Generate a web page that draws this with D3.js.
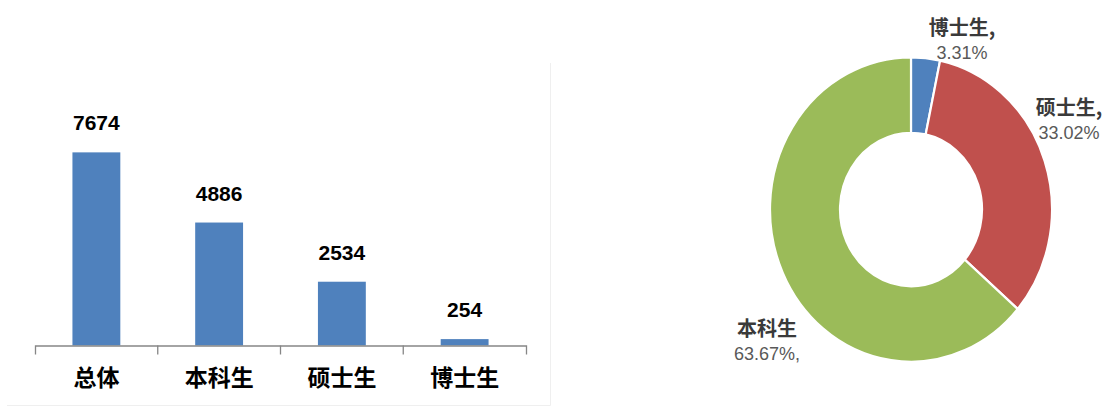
<!DOCTYPE html>
<html>
<head>
<meta charset="utf-8">
<script src="https://cdn.jsdelivr.net/npm/d3@7/dist/d3.min.js"></script>
<style>
  html, body { margin: 0; padding: 0; background: #fff; }
  svg { display: block; }
</style>
</head>
<body>
<div id="chart"></div>
<script>
// data
const categories = ['总体', '本科生', '硕士生', '博士生'];
const counts = [7674, 4886, 2534, 254];

// donut runs clockwise from 12 o'clock
const pieNames = ['博士生', '硕士生', '本科生'];
const pieCounts = [254, 2534, 4886];
const pieColors = ['#4f81bd', '#c0504d', '#9bbb59'];
// where the comma sits in each label (Excel style)
const nameSuffix = [',', ',', ''];
const pctSuffix = ['', '', ','];

const width = 1112;
const height = 409;
const cjk = '"Noto Sans CJK SC", "Noto Sans", sans-serif';
const num = '"Liberation Sans", Arial, sans-serif';

const svg = d3.select('#chart').append('svg')
    .attr('width', width)
    .attr('height', height);

// faint frame of the bar chart picture
svg.append('path')
    .attr('d', 'M7,405.5H550.5V63')
    .attr('fill', 'none')
    .attr('stroke', '#efefef')
    .attr('stroke-width', 1);

/* ---------- bar chart ---------- */
const axisY = 345.5;
const x = d3.scaleBand()
    .domain(categories)
    .range([35, 526])
    .paddingInner(0.61)
    .paddingOuter(0.305);
const y = d3.scaleLinear()
    .domain([0, 9000])
    .range([axisY, 119]);

const bars = svg.append('g');
bars.selectAll('rect')
    .data(categories)
    .join('rect')
    .attr('x', d => x(d))
    .attr('y', (d, i) => y(counts[i]))
    .attr('width', x.bandwidth())
    .attr('height', (d, i) => axisY - y(counts[i]))
    .attr('fill', '#4f81bd');

bars.selectAll('text')
    .data(categories)
    .join('text')
    .attr('x', d => x(d) + x.bandwidth() / 2)
    .attr('y', (d, i) => y(counts[i]) - 22)
    .attr('text-anchor', 'middle')
    .style('font-family', num)
    .style('font-weight', 'bold')
    .style('font-size', '21px')
    .attr('fill', '#000')
    .text((d, i) => counts[i]);

const xAxis = svg.append('g')
    .attr('transform', `translate(0,${axisY})`)
    .call(d3.axisBottom(x).tickSize(0).tickSizeOuter(9).tickPadding(24));
xAxis.select('.domain')
    .attr('stroke', '#868686')
    .attr('stroke-width', 1.3);
xAxis.selectAll('.tick text')
    .style('font-family', cjk)
    .style('font-weight', 'bold')
    .style('font-size', '23px')
    .attr('fill', '#000');

// category boundary ticks
const gap = x.step() * x.paddingInner() / 2;
xAxis.selectAll('line.sep')
    .data(categories.slice(1))
    .join('line')
    .attr('class', 'sep')
    .attr('x1', d => x(d) - gap)
    .attr('x2', d => x(d) - gap)
    .attr('y1', 0)
    .attr('y2', 9)
    .attr('stroke', '#868686')
    .attr('stroke-width', 1.3);

/* ---------- donut ---------- */
const cx = 911, cy = 209.5;
const outerR = 141, innerR = 71;
const total = d3.sum(pieCounts);

const pie = d3.pie().sort(null).value(d => d)(pieCounts);
const arc = d3.arc().innerRadius(innerR).outerRadius(outerR);

svg.append('g')
    .attr('transform', `translate(${cx},${cy}) scale(1,1.08)`)
    .selectAll('path')
    .data(pie)
    .join('path')
    .attr('d', arc)
    .attr('fill', (d, i) => pieColors[i])
    .attr('stroke', '#fff')
    .attr('stroke-width', 2.2);

// label offsets from donut centre
const labelPos = [[51, -182], [158, -102], [-144, 119]];
const pctFmt = d3.format('.2%');

const labels = svg.append('g')
    .selectAll('g')
    .data(pieNames)
    .join('g')
    .attr('transform', (d, i) => `translate(${cx + labelPos[i][0]},${cy + labelPos[i][1]})`);

labels.append('text')
    .attr('text-anchor', 'middle')
    .attr('y', 7)
    .style('font-family', cjk)
    .style('font-weight', 'bold')
    .style('font-size', '20px')
    .attr('fill', '#3a3a3a')
    .text((d, i) => d + nameSuffix[i]);

labels.append('text')
    .attr('text-anchor', 'middle')
    .attr('y', 31)
    .style('font-family', num)
    .style('font-size', '18px')
    .attr('fill', '#595959')
    .text((d, i) => pctFmt(pieCounts[i] / total) + pctSuffix[i]);
</script>
</body>
</html>
